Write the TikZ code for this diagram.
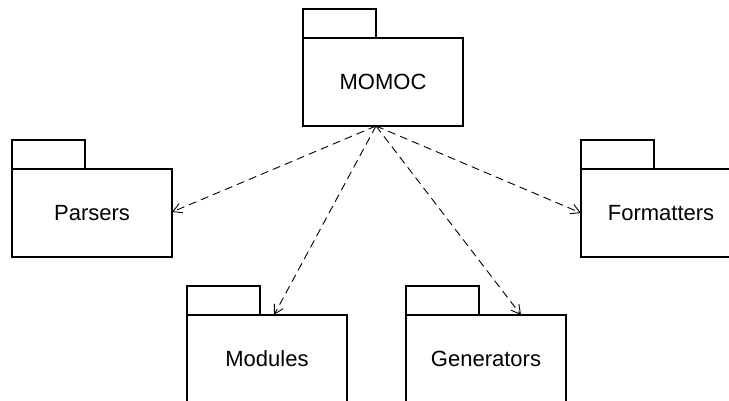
\documentclass[tikz,border=0pt]{standalone}
\usepackage{fontspec}
\setmainfont{Liberation Sans}
\usetikzlibrary{arrows.meta,calc}
\tikzset{
  pkgbody/.style={draw, line width=1.5pt, minimum width=160pt, minimum height=88pt,
    inner sep=0pt, outer sep=0pt, font=\fontsize{22}{26}\selectfont},
  pkgtab/.style={draw, line width=1.5pt, minimum width=73pt, minimum height=29pt,
    inner sep=0pt, outer sep=0pt, anchor=south west},
  dep/.style={draw, line width=0.9pt, dash pattern=on 8pt off 5pt,
    -{Straight Barb[length=9pt,width=10pt]}}
}
\begin{document}
\begin{tikzpicture}[x=1pt,y=-1pt]
\useasboundingbox (0,0) rectangle (729,400);
\clip (0,0) rectangle (729,400);
\node[pkgbody] (momoc) at (383,82) {MOMOC};
\node[pkgtab] (momoctab) at (momoc.north west) {};
\node[pkgbody] (parsers) at (92,213) {Parsers};
\node[pkgtab] (parserstab) at (parsers.north west) {};
\node[pkgbody] (formatters) at (661,213) {Formatters};
\node[pkgtab] (formatterstab) at (formatters.north west) {};
\node[pkgbody] (modules) at (267,359) {Modules};
\node[pkgtab] (modulestab) at (modules.north west) {};
\node[pkgbody] (generators) at (486,359) {Generators};
\node[pkgtab] (generatorstab) at (generators.north west) {};
\coordinate (src) at (momoctab.south east |- momoc.south);
\draw[dep] (src) -- ($(parsers.east)+(0,-1)$);
\draw[dep] (src) -- ($(modules.north)+(7,0)$);
\draw[dep] (src) -- ($(generators.north)+(35,0)$);
\draw[dep] (src) -- (formatters.west);
\end{tikzpicture}
\end{document}
